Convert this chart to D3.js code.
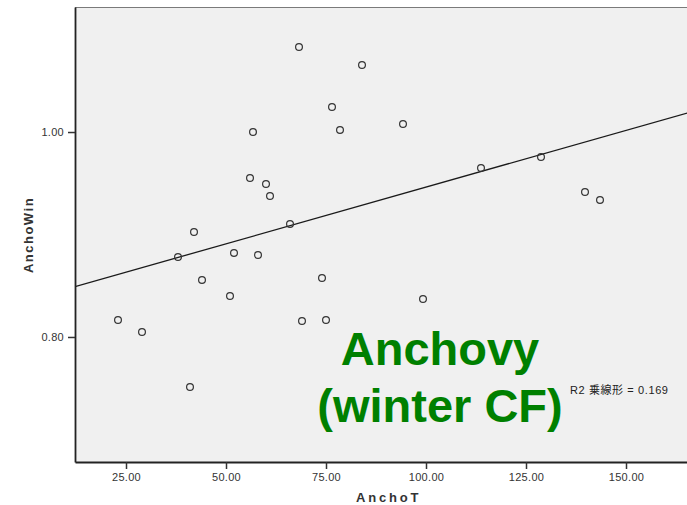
<!DOCTYPE html>
<html>
<head>
<meta charset="utf-8">
<script src="https://cdn.jsdelivr.net/npm/d3@7/dist/d3.min.js"></script>
<style>
  html, body { margin: 0; padding: 0; background: #fff; }
  svg { display: block; }
</style>
</head>
<body>
<script>
// AnchoT (x) vs AnchoWin (y) observations
const anchoT = [23, 29, 38, 42, 44, 41, 51, 52, 56, 56.75, 60, 61, 58, 66, 68.25,
  74, 69, 75, 76.5, 78.5, 84, 94.25, 99.25, 113.75, 128.75, 139.75, 143.5];
const anchoWin = [0.8166, 0.8049, 0.878, 0.9024, 0.8556, 0.7512, 0.84, 0.882, 0.9551, 1.0, 0.9493, 0.9376, 0.88, 0.9102, 1.0829,
  0.8576, 0.8156, 0.8166, 1.0244, 1.002, 1.0654, 1.0078, 0.8371, 0.9649, 0.9756, 0.9415, 0.9337];

const xTicks = [25, 50, 75, 100, 125, 150];
const yTicks = [0.80, 1.00];
const xDomain = [12.25, 165.5];
const yDomain = [0.678, 1.122];
const titleLines = ["Anchovy", "(winter CF)"];
const r2Label = "R2 乗線形 = 0.169";

const W = 687, H = 505;
const plotL = 75, plotR = 688, plotT = 7, plotB = 462;
const font = "'Liberation Sans', Arial, 'Noto Sans CJK JP', sans-serif";

const svg = d3.select("body").append("svg")
  .attr("width", W).attr("height", H);

const x = d3.scaleLinear().domain(xDomain).range([plotL, plotR]);
const y = d3.scaleLinear().domain(yDomain).range([plotB, plotT]);

// plot background
svg.append("rect")
  .attr("x", plotL).attr("y", plotT)
  .attr("width", plotR - plotL).attr("height", plotB - plotT)
  .attr("fill", "#f0f0f0");

// top frame line
svg.append("line")
  .attr("x1", plotL).attr("x2", plotR)
  .attr("y1", plotT + 0.5).attr("y2", plotT + 0.5)
  .attr("stroke", "#7a7a7a").attr("stroke-width", 1.2);

svg.append("defs").append("clipPath").attr("id", "plotClip")
  .append("rect").attr("x", plotL).attr("y", plotT)
  .attr("width", plotR - plotL).attr("height", plotB - plotT);

// least-squares fit line
const points = anchoT.map((v, i) => ({ x: v, y: anchoWin[i] }));
const mx = d3.mean(points, d => d.x), my = d3.mean(points, d => d.y);
const sxy = d3.sum(points, d => (d.x - mx) * (d.y - my));
const sxx = d3.sum(points, d => (d.x - mx) ** 2);
const slope = sxy / sxx, intercept = my - slope * mx;

svg.append("line")
  .attr("clip-path", "url(#plotClip)")
  .attr("x1", x(xDomain[0])).attr("y1", y(intercept + slope * xDomain[0]))
  .attr("x2", x(xDomain[1])).attr("y2", y(intercept + slope * xDomain[1]))
  .attr("stroke", "#1a1a1a").attr("stroke-width", 1.3);

// scatter markers
svg.append("g").selectAll("circle")
  .data(points).join("circle")
  .attr("cx", d => x(d.x)).attr("cy", d => y(d.y))
  .attr("r", 3.4)
  .attr("fill", "none")
  .attr("stroke", "#333").attr("stroke-width", 1.2);

// axes
const xAxis = svg.append("g")
  .attr("transform", `translate(0,${plotB})`)
  .call(d3.axisBottom(x).tickValues(xTicks).tickFormat(d3.format(".2f")).tickSize(7).tickSizeOuter(0));
const yAxis = svg.append("g")
  .attr("transform", `translate(${plotL},0)`)
  .call(d3.axisLeft(y).tickValues(yTicks).tickFormat(d3.format(".2f")).tickSize(7).tickSizeOuter(0));

[xAxis, yAxis].forEach(g => {
  g.select(".domain").attr("stroke", "#222").attr("stroke-width", 1.8);
  g.selectAll(".tick line").attr("stroke", "#333").attr("stroke-width", 1.5);
  g.selectAll(".tick text")
    .attr("fill", "#333")
    .style("font-family", font).style("font-size", "11px")
    .style("letter-spacing", "0.3px");
});
xAxis.selectAll(".tick text").attr("dy", "0.71em").attr("y", 11);
yAxis.selectAll(".tick text").attr("x", -11);

// axis titles
svg.append("text")
  .attr("x", 356).attr("y", 502)
  .attr("fill", "#333")
  .style("font-family", font).style("font-size", "13px").style("font-weight", "bold")
  .style("letter-spacing", "2.8px")
  .text("AnchoT");

svg.append("text")
  .attr("transform", "translate(33,235) rotate(-90)")
  .attr("text-anchor", "middle")
  .attr("fill", "#333")
  .style("font-family", font).style("font-size", "13px").style("font-weight", "bold")
  .style("letter-spacing", "1.5px")
  .text("AnchoWin");

// overlay title
svg.append("g").selectAll("text")
  .data(titleLines).join("text")
  .attr("x", 440)
  .attr("y", (d, i) => 365 + i * 57)
  .attr("text-anchor", "middle")
  .attr("fill", "#008000")
  .style("font-family", font).style("font-size", "47px").style("font-weight", "bold")
  .text(d => d);

// fit statistic label
svg.append("text")
  .attr("x", 570).attr("y", 394)
  .attr("fill", "#222")
  .style("font-family", font).style("font-size", "11px")
  .style("letter-spacing", "0.6px")
  .text(r2Label);
</script>
</body>
</html>
